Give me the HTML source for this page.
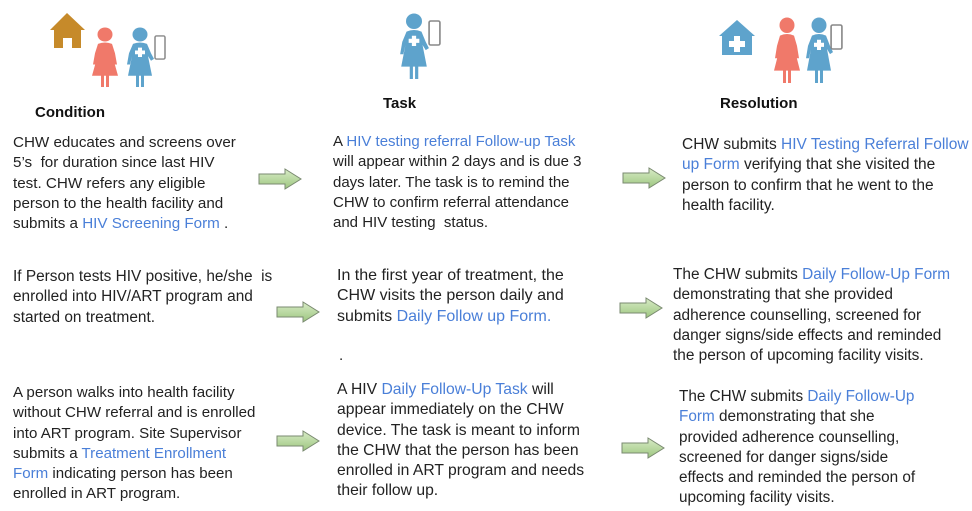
<!DOCTYPE html>
<html><head><meta charset="utf-8"><style>
body{margin:0;width:972px;height:511px;background:#fff;position:relative;overflow:hidden;font-family:"Liberation Sans",sans-serif;}
.t{position:absolute;font-size:15.2px;line-height:20.3px;color:#222;white-space:nowrap;}
.l{color:#4a7fd8;}
.h{position:absolute;font-weight:bold;font-size:15px;color:#111;}
svg{position:absolute;left:0;top:0;}
</style></head><body>
<svg width="972" height="511">
<defs>
<symbol id="woman" viewBox="0 0 30 64" preserveAspectRatio="none"><circle cx="15" cy="8" r="7.5"/><path d="M8 18 Q15 15 22 18 L25 28 L27 40 L24 40 L23 33 L28 52 L19 52 L19 64 L16 64 L16 52 L14 52 L14 64 L11 64 L11 52 L2 52 L7 33 L6 40 L3 40 L5 28 Z"/></symbol>
<symbol id="chw" viewBox="0 0 30 64" preserveAspectRatio="none"><circle cx="15" cy="8" r="7.5"/><path d="M8 18 Q15 15 22 18 L26 28 L29 34 L26 36 L23 31 L27 52 L19 52 L19 64 L16 64 L16 52 L14 52 L14 64 L11 64 L11 52 L3 52 L7 31 L5 40 L2 40 L4 28 Z"/><path d="M13 22h4v3h3v4h-3v3h-4v-3h-3v-4h3z" fill="#fff"/></symbol>
<symbol id="phone" viewBox="0 0 12 26" preserveAspectRatio="none"><rect x="1" y="1" width="10" height="24" rx="1.5" fill="#fff" stroke="#888" stroke-width="1.5"/></symbol>
<symbol id="arrow" viewBox="0 0 44 22" preserveAspectRatio="none"><defs><linearGradient id="g" x1="0" y1="0" x2="0" y2="1"><stop offset="0" stop-color="#d9ecc7"/><stop offset="1" stop-color="#9cc57f"/></linearGradient></defs><path d="M1 6 H27 V1 L43 11 L27 21 V16 H1 Z" fill="url(#g)" stroke="#7a8a70" stroke-width="1"/></symbol>
</defs>
<path d="M67 13 L85 30 L81 30 L81 48 L72 48 L72 38 L63 38 L63 48 L54 48 L54 30 L50 30 Z" fill="#c68a2a"/>
<use href="#woman" x="90" y="27" width="30" height="60" fill="#f0796a"/>
<use href="#chw" x="125" y="27" width="30" height="60" fill="#5ea3cc"/>
<use href="#phone" x="154" y="35" width="12" height="25"/>
<use href="#chw" x="398" y="13" width="32" height="66" fill="#5ea3cc"/>
<use href="#phone" x="428" y="20" width="13" height="26"/>
<path d="M737 20 L755 36 L752 36 L752 55 L722 55 L722 36 L719 36 Z" fill="#5ea3cc"/>
<path d="M734 36h6v5h5v6h-5v5h-6v-5h-5v-6h5z" fill="#fff"/>
<use href="#woman" x="772" y="17" width="30" height="66" fill="#f0796a"/>
<use href="#chw" x="804" y="17" width="30" height="66" fill="#5ea3cc"/>
<use href="#phone" x="830" y="24" width="13" height="26"/>
<use href="#arrow" x="258" y="168" width="44" height="22"/>
<use href="#arrow" x="622" y="167" width="44" height="22"/>
<use href="#arrow" x="276" y="301" width="44" height="22"/>
<use href="#arrow" x="619" y="297" width="44" height="22"/>
<use href="#arrow" x="276" y="430" width="44" height="22"/>
<use href="#arrow" x="621" y="437" width="44" height="22"/>
</svg>
<div class="h" style="left:35px;top:104px">Condition</div>
<div class="h" style="left:383px;top:95px">Task</div>
<div class="h" style="left:720px;top:95px">Resolution</div>

<div class="t" style="left:13px;top:133px">CHW educates and screens over<br>5’s&nbsp; for duration since last HIV<br>test. CHW refers any eligible<br>person to the health facility and<br>submits a <span class="l">HIV Screening Form</span> .</div>
<div class="t" style="left:333px;top:132px;font-size:15px">A <span class="l">HIV testing referral Follow-up Task</span><br>will appear within 2 days and is due 3<br>days later. The task is to remind the<br>CHW to confirm referral attendance<br>and HIV testing&nbsp; status.</div>
<div class="t" style="left:682px;top:135px;font-size:15.5px">CHW submits <span class="l">HIV Testing Referral Follow<br>up Form</span> verifying that she visited the<br>person to confirm that he went to the<br>health facility.</div>

<div class="t" style="left:13px;top:267px;font-size:15.4px">If Person tests HIV positive, he/she&nbsp; is<br>enrolled into HIV/ART program and<br>started on treatment.</div>
<div class="t" style="left:337px;top:266px;font-size:16px">In the first year of treatment, the<br>CHW visits the person daily and<br>submits <span class="l">Daily Follow up Form.</span></div>
<div class="t" style="left:339px;top:346px">.</div>
<div class="t" style="left:673px;top:265px;font-size:15.4px">The CHW submits <span class="l">Daily Follow-Up Form</span><br>demonstrating that she provided<br>adherence counselling, screened for<br>danger signs/side effects and reminded<br>the person of upcoming facility visits.</div>

<div class="t" style="left:13px;top:383px;font-size:15.1px">A person walks into health facility<br>without CHW referral and is enrolled<br>into ART program. Site Supervisor<br>submits a <span class="l">Treatment Enrollment<br>Form</span> indicating person has been<br>enrolled in ART program.</div>
<div class="t" style="left:337px;top:380px;font-size:15.7px">A HIV <span class="l">Daily Follow-Up Task</span> will<br>appear immediately on the CHW<br>device. The task is meant to inform<br>the CHW that the person has been<br>enrolled in ART program and needs<br>their follow up.</div>
<div class="t" style="left:679px;top:387px;font-size:15.3px">The CHW submits <span class="l">Daily Follow-Up<br>Form</span> demonstrating that she<br>provided adherence counselling,<br>screened for danger signs/side<br>effects and reminded the person of<br>upcoming facility visits.</div>
</body></html>
